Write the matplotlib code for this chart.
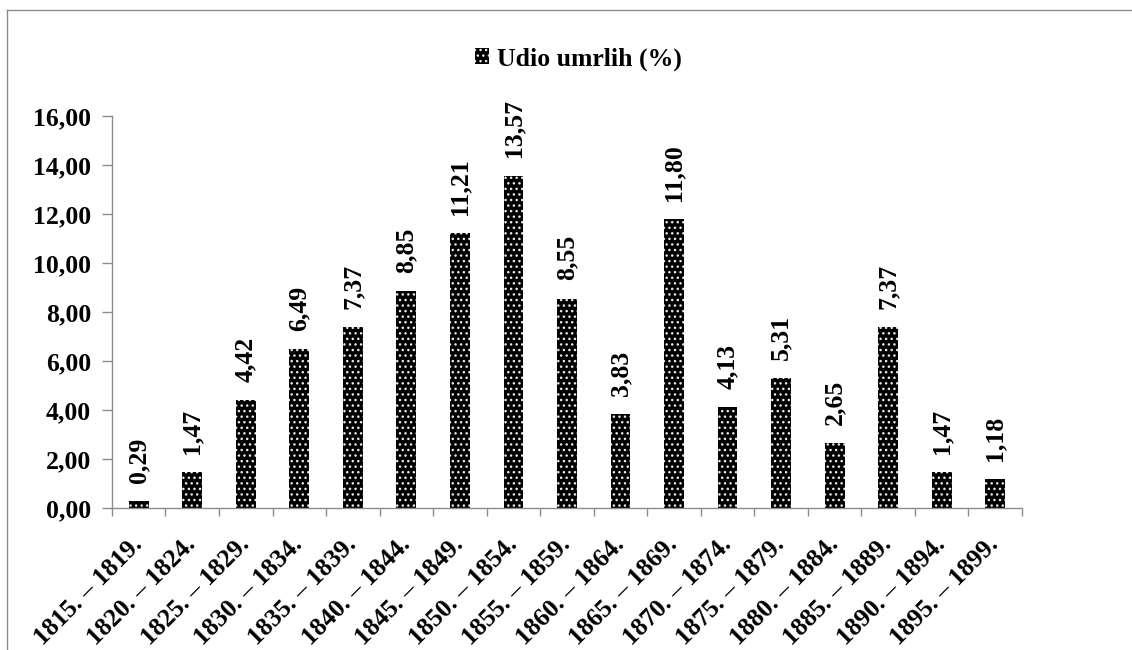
import matplotlib
matplotlib.use("Agg")
import matplotlib.pyplot as plt
from matplotlib.lines import Line2D
from matplotlib.patches import Patch
from matplotlib.ticker import FuncFormatter

## Data
periods = ["1815. – 1819.", "1820. – 1824.", "1825. – 1829.", "1830. – 1834.",
           "1835. – 1839.", "1840. – 1844.", "1845. – 1849.", "1850. – 1854.",
           "1855. – 1859.", "1860. – 1864.", "1865. – 1869.", "1870. – 1874.",
           "1875. – 1879.", "1880. – 1884.", "1885. – 1889.", "1890. – 1894.",
           "1895. – 1899."]
udio = [0.29, 1.47, 4.42, 6.49, 7.37, 8.85, 11.21, 13.57, 8.55, 3.83,
        11.80, 4.13, 5.31, 2.65, 7.37, 1.47, 1.18]
y_ticks = [0, 2, 4, 6, 8, 10, 12, 14, 16]
series_name = "Udio umrlih (%)"

plt.rcParams['font.family'] = ['Liberation Serif', 'DejaVu Serif']
plt.rcParams['font.weight'] = 'bold'
plt.rcParams['hatch.linewidth'] = 1.0

axis_grey = "#8c8c8c"
fs = 18.5

fig = plt.figure(figsize=(11.32, 6.5), dpi=100)
ax = fig.add_axes([0.0989, 0.2185, 0.8039, 0.603])

x = list(range(len(periods)))
ax.bar(x, udio, width=0.37, color="black", edgecolor="#e8e8e8",
       linewidth=0, hatch="...")

# value labels, rotated like in Excel
for xi, v in zip(x, udio):
    ax.annotate(f"{v:.2f}".replace(".", ","), (xi, v), xytext=(0, 13),
                textcoords="offset points", rotation=90, ha="center",
                va="bottom", fontsize=fs, fontweight="bold")

ax.set_xlim(-0.5, len(periods) - 0.5)
ax.set_ylim(0, 16)
ax.set_yticks(y_ticks)
ax.yaxis.set_major_formatter(FuncFormatter(lambda v, p: f"{v:.2f}".replace(".", ",")))

ax.set_xticks(x)
ax.set_xticklabels(periods, rotation=45, ha="right", va="center",
                   rotation_mode="anchor")
ax.set_xticks([i - 0.5 for i in range(len(periods) + 1)], minor=True)
ax.tick_params(axis="x", which="major", length=0, pad=24, labelsize=fs)
ax.tick_params(axis="x", which="minor", length=6, color=axis_grey, width=1)
ax.tick_params(axis="y", length=7, color=axis_grey, width=1, labelsize=fs, pad=8)

for s in ["top", "right"]:
    ax.spines[s].set_visible(False)
for s in ["left", "bottom"]:
    ax.spines[s].set_color(axis_grey)
    ax.spines[s].set_linewidth(1)

# legend on top
leg = ax.legend([Patch(facecolor="black", edgecolor="#e8e8e8", linewidth=0, hatch="...")],
                [series_name], loc="center", frameon=False, fontsize=fs,
                handlelength=0.55, handleheight=0.55, handletextpad=0.3)
leg.set_bbox_to_anchor((0.511, 1 - 59 / 650), transform=fig.transFigure)

# chart border (left and top visible)
fig.add_artist(Line2D([7 / 1132, 7 / 1132], [0, 1 - 10 / 650], color=axis_grey,
                      lw=1, transform=fig.transFigure))
fig.add_artist(Line2D([7 / 1132, 1], [1 - 10 / 650, 1 - 10 / 650], color=axis_grey,
                      lw=1, transform=fig.transFigure))

fig.savefig("out.png", dpi=100)
